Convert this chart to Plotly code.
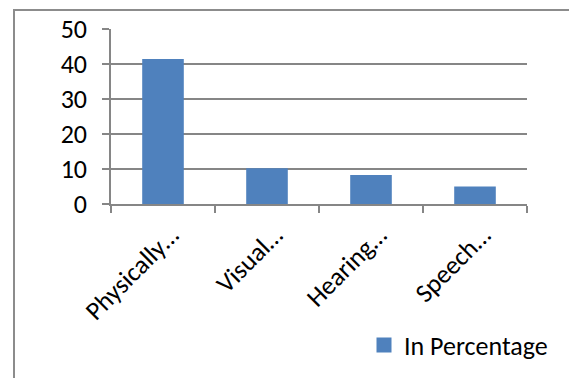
import plotly.graph_objects as go

categories = ["Physically…", "Visual…", "Hearing…", "Speech…"]
values = [41.4, 10.2, 8.3, 5.0]
series_name = "In Percentage"
y_ticks = [0, 10, 20, 30, 40, 50]

W, H = 569, 378
L, R, T, B = 111, 42, 29, 173
pw, ph = W - L - R, H - T - B

def px_x(x):
    return (x - L) / pw

def px_y(y):
    return (H - B - y) / ph

FONT = "Carlito, Calibri, Lato, sans-serif"
FS = 26
BAR_COLOR = "#4F81BD"

fig = go.Figure()
fig.add_trace(go.Bar(
    x=categories, y=values, name=series_name,
    marker=dict(color=BAR_COLOR, line=dict(width=0)),
    width=0.4, showlegend=False,
))
# legend entry (square swatch like the original)
fig.add_trace(go.Scatter(
    x=[None], y=[None], mode="markers", name=series_name,
    marker=dict(symbol="square", size=15, color=BAR_COLOR),
    showlegend=True,
))

fig.update_layout(
    width=W, height=H,
    margin=dict(l=L, r=R, t=T, b=B, pad=0),
    paper_bgcolor="white", plot_bgcolor="white",
    font=dict(family=FONT, size=FS, color="black"),
    showlegend=True,
    legend=dict(x=px_x(364), y=px_y(345), xanchor="left", yanchor="middle",
                font=dict(size=FS, family=FONT), bgcolor="rgba(0,0,0,0)"),
    xaxis=dict(
        type="category", tickson="boundaries", ticks="outside", ticklen=7,
        tickcolor="#868686", tickwidth=1.5,
        showline=True, linecolor="#868686", linewidth=1.5,
        showgrid=False, tickangle=-45, tickfont=dict(size=FS, family=FONT),
        ticklabelshift=8, ticklabelstandoff=4,
        fixedrange=True,
    ),
    yaxis=dict(
        range=[0, 50], tickvals=y_ticks, ticks="outside", ticklen=7,
        tickcolor="#868686", tickwidth=1.5,
        showline=True, linecolor="#868686", linewidth=1.5,
        showgrid=True, gridcolor="#868686", gridwidth=1.5,
        zeroline=False, tickfont=dict(size=FS, family=FONT),
        ticklabelstandoff=10,
    ),
    shapes=[dict(
        type="rect", xref="paper", yref="paper",
        x0=px_x(14), x1=px_x(590), y0=px_y(400), y1=px_y(10),
        line=dict(color="#8C8C8C", width=2), fillcolor="rgba(0,0,0,0)",
        layer="below",
    )],
)

fig.write_html("out.html")
